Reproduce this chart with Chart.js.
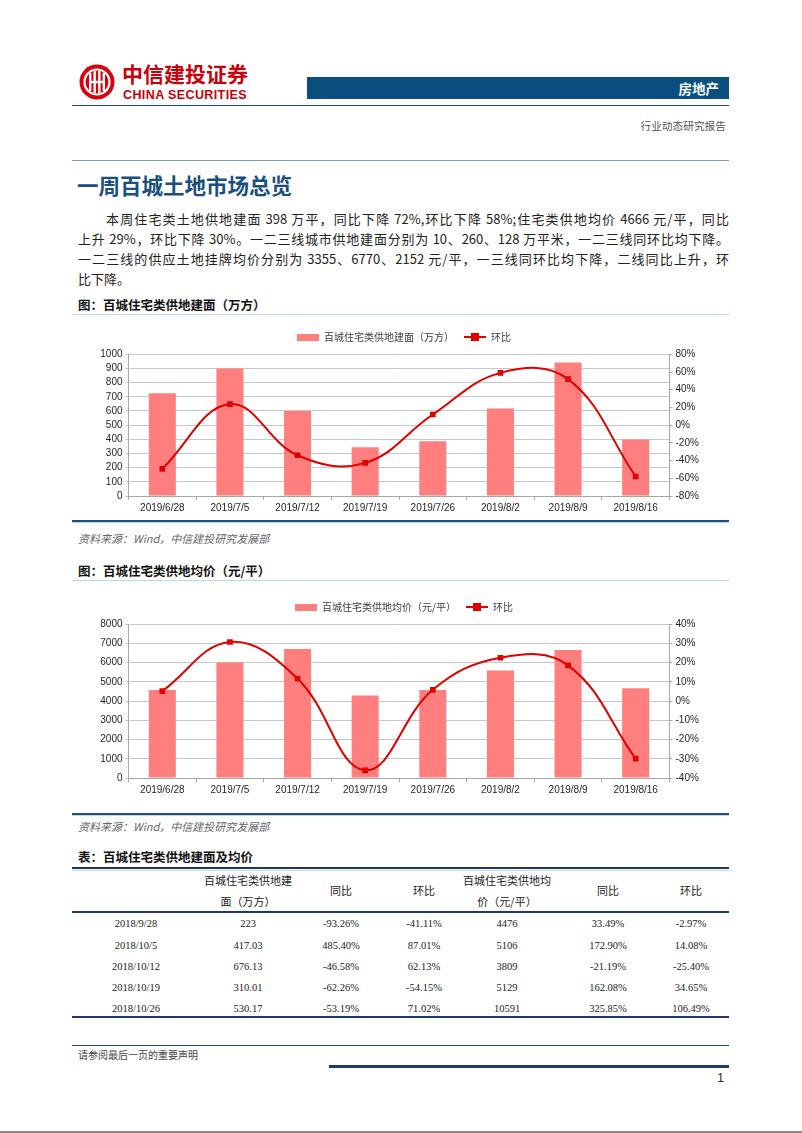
<!DOCTYPE html>
<html>
<head>
<meta charset="utf-8">
<script src="https://cdn.jsdelivr.net/npm/chart.js@4.4.1/dist/chart.umd.min.js"></script>
<style>
  html, body { margin: 0; padding: 0; background: #fff; }
  body { width: 802px; height: 1133px; position: relative; overflow: hidden;
         font-family: "Noto Sans CJK SC", "Liberation Sans", sans-serif; color: #222; }
  .abs { position: absolute; }
  .hline { position: absolute; height: 0; }
  .para { position: absolute; left: 78px; width: 651px; font-size: 13px; line-height: 20px;
          text-align: justify; text-align-last: justify; color: #222; }
  .ctitle { position: absolute; left: 78px; font-size: 12.5px; font-weight: bold; color: #111; line-height: 16px; }
  .src { position: absolute; left: 78px; font-size: 11px; font-style: italic; color: #666; line-height: 14px; }
  .box { position: absolute; }
  .cell { position: absolute; transform: translate(-50%, -50%); white-space: nowrap; }
  .num { font-family: "Liberation Serif", serif; font-size: 10.5px; color: #222; }
  .hd { font-size: 11px; color: #222; }
</style>
</head>
<body>

<!-- header -->
<svg class="abs" style="left:78px;top:63px" width="38" height="38" viewBox="0 0 38 38">
  <circle cx="19" cy="19" r="17.5" fill="#d7000f"/>
  <circle cx="19" cy="19" r="12.5" fill="none" stroke="#fff" stroke-width="2.2"/>
  <rect x="11" y="10" width="2.4" height="18" fill="#fff"/>
  <rect x="24.6" y="10" width="2.4" height="18" fill="#fff"/>
  <rect x="15.5" y="8" width="2.4" height="22" fill="#fff"/>
  <rect x="20.1" y="8" width="2.4" height="22" fill="#fff"/>
  <rect x="11" y="17.8" width="16" height="2.4" fill="#fff"/>
</svg>
<div class="abs" style="left:122px;top:60px;font-size:21px;font-weight:bold;color:#c8000b;line-height:26px">中信建投证券</div>
<div class="abs" style="left:123px;top:88px;font-family:'Liberation Sans';font-size:12.5px;font-weight:bold;color:#c8000b;line-height:14px;letter-spacing:0.4px">CHINA SECURITIES</div>
<div class="abs" style="left:307px;top:77px;width:422px;height:22px;background:#0b4f80"></div>
<div class="abs" style="left:600px;top:77px;width:119px;height:22px;line-height:22px;text-align:right;font-size:13.5px;font-weight:bold;color:#fff">房地产</div>
<div class="hline" style="left:72px;top:105px;width:657px;border-top:1.5px solid #1f4e79"></div>
<div class="abs" style="left:600px;top:119px;width:126px;text-align:right;font-size:10.7px;color:#555;line-height:14px">行业动态研究报告</div>
<div class="hline" style="left:72px;top:160px;width:657px;border-top:1px solid #7d9bbb"></div>

<!-- section title and text -->
<div class="abs" style="left:77px;top:171px;font-size:21.5px;font-weight:bold;color:#1a4f80;line-height:28px">一周百城土地市场总览</div>
<div class="para" style="left:106px;width:623px;top:209px">本周住宅类土地供地建面 398 万平，同比下降 72%,环比下降 58%;住宅类供地均价 4666 元/平，同比</div>
<div class="para" style="top:229px">上升 29%，环比下降 30%。一二三线城市供地建面分别为 10、260、128 万平米，一二三线同环比均下降。</div>
<div class="para" style="top:249px">一二三线的供应土地挂牌均价分别为 3355、6770、2152 元/平，一三线同环比均下降，二线同比上升，环</div>
<div class="para" style="top:269px;text-align-last:left">比下降。</div>

<!-- chart 1 -->
<div class="ctitle" style="top:297px">图：百城住宅类供地建面（万方）</div>
<div class="hline" style="left:72px;top:314px;width:657px;border-top:1px solid #bdd7ee"></div>
<div class="box" style="left:80px;top:322px;width:648px;height:196px"><canvas id="areaChart"></canvas></div>
<div class="hline" style="left:72px;top:520px;width:657px;border-top:2px solid #1f4e79"></div>
<div class="hline" style="left:72px;top:522px;width:657px;border-top:1px solid #bdd7ee"></div>
<div class="src" style="top:531px">资料来源：Wind，中信建投研究发展部</div>

<!-- chart 2 -->
<div class="ctitle" style="top:563px">图：百城住宅类供地均价（元/平）</div>
<div class="hline" style="left:72px;top:580px;width:657px;border-top:1px solid #bdd7ee"></div>
<div class="box" style="left:80px;top:592px;width:648px;height:208px"><canvas id="priceChart"></canvas></div>
<div class="hline" style="left:72px;top:813px;width:657px;border-top:2px solid #1f4e79"></div>
<div class="hline" style="left:72px;top:815px;width:657px;border-top:1px solid #bdd7ee"></div>
<div class="src" style="top:819px">资料来源：Wind，中信建投研究发展部</div>

<!-- table -->
<div class="ctitle" style="top:849px">表：百城住宅类供地建面及均价</div>
<div class="hline" style="left:72px;top:867px;width:657px;border-top:2.5px solid #1f3864"></div>
<div class="hline" style="left:72px;top:870px;width:657px;border-top:1px solid #bdd7ee"></div>
<div id="table"></div>
<div class="hline" style="left:72px;top:911px;width:657px;border-top:2.5px solid #1f3864"></div>
<div class="hline" style="left:72px;top:1016px;width:657px;border-top:2.5px solid #1f3864"></div>

<!-- footer -->
<div class="hline" style="left:72px;top:1045px;width:657px;border-top:1px solid #1f4e79"></div>
<div class="abs" style="left:78px;top:1048px;font-size:10px;color:#444;line-height:14px">请参阅最后一页的重要声明</div>
<div class="hline" style="left:329px;top:1065px;width:400px;border-top:3px solid #1f3864"></div>
<div class="abs" style="left:700px;top:1071px;width:24px;text-align:right;font-family:'Liberation Sans';font-size:12px;color:#222;line-height:15px">1</div>
<div class="hline" style="left:0px;top:1131px;width:802px;border-top:2px solid #888"></div>

<script>
// chart data
const dates = ['2019/6/28', '2019/7/5', '2019/7/12', '2019/7/19', '2019/7/26', '2019/8/2', '2019/8/9', '2019/8/16'];
const areaValues = [726, 899, 599, 344, 387, 618, 943, 398];
const areaMoM = [-49.4, 23.8, -34, -42.6, 12, 59, 52, -58];
const priceValues = [4574, 6017, 6713, 4296, 4574, 5600, 6661, 4666];
const priceMoM = [5.2, 30.8, 11.7, -36, 5.9, 22.6, 18.6, -30];

// table data
const tableDates = ['2018/9/28', '2018/10/5', '2018/10/12', '2018/10/19', '2018/10/26'];
const tableArea = ['223', '417.03', '676.13', '310.01', '530.17'];
const tableAreaYoY = ['-93.26%', '485.40%', '-46.58%', '-62.26%', '-53.19%'];
const tableAreaMoM = ['-41.11%', '87.01%', '62.13%', '-54.15%', '71.02%'];
const tablePrice = ['4476', '5106', '3809', '5129', '10591'];
const tablePriceYoY = ['33.49%', '172.90%', '-21.19%', '162.08%', '325.85%'];
const tablePriceMoM = ['-2.97%', '14.08%', '-25.40%', '34.65%', '106.49%'];

const BAR_COLOR = '#ff7f7f';
const LINE_COLOR = '#e00000';
const tickFont = { family: 'Liberation Sans', size: 10 };

// legend swatches
function barSwatch() {
    const c = document.createElement('canvas');
    c.width = 22; c.height = 7;
    const g = c.getContext('2d');
    g.fillStyle = BAR_COLOR;
    g.fillRect(0, 0, 22, 7);
    return c;
}
function lineSwatch() {
    const c = document.createElement('canvas');
    c.width = 22; c.height = 8;
    const g = c.getContext('2d');
    g.fillStyle = LINE_COLOR;
    g.fillRect(0, 3, 22, 2);
    g.fillRect(7, 0, 8, 8);
    return c;
}

function makeChart(id, barLabel, bars, line, leftMax, leftStep, rightMin, rightMax, rightStep) {
    const legendItems = [
        { text: barLabel, pointStyle: barSwatch(), datasetIndex: 0, lineWidth: 0, fontColor: '#404040', hidden: false },
        { text: '环比', pointStyle: lineSwatch(), datasetIndex: 1, lineWidth: 0, fontColor: '#404040', hidden: false }
    ];

    return new Chart(document.getElementById(id), {
        type: 'bar',
        data: {
            labels: dates,
            datasets: [{
                type: 'bar',
                label: barLabel,
                data: bars,
                backgroundColor: BAR_COLOR,
                barPercentage: 0.4,
                categoryPercentage: 1.0,
                yAxisID: 'y',
                order: 1
            }, {
                type: 'line',
                label: '环比',
                data: line,
                borderColor: LINE_COLOR,
                backgroundColor: LINE_COLOR,
                borderWidth: 2,
                pointStyle: 'rect',
                pointRadius: 4,
                pointBackgroundColor: LINE_COLOR,
                pointBorderWidth: 0,
                tension: 0.4,
                yAxisID: 'y1',
                order: 0
            }]
        },
        options: {
            responsive: true,
            maintainAspectRatio: false,
            animation: false,
            layout: { padding: { top: 0, left: 0, right: 0, bottom: 0 } },
            plugins: {
                tooltip: { enabled: false },
                legend: {
                    position: 'top',
                    labels: {
                        usePointStyle: true,
                        pointStyleWidth: 22,
                        padding: 10,
                        font: { family: 'Noto Sans CJK SC', size: 10 },
                        color: '#404040',
                        generateLabels: () => legendItems
                    }
                }
            },
            scales: {
                x: {
                    offset: true,
                    grid: { display: true, drawOnChartArea: false, offset: true, tickLength: 4, color: '#a6a6a6' },
                    border: { color: '#a6a6a6' },
                    ticks: { font: tickFont, color: '#262626', maxRotation: 0, autoSkip: false, padding: 2 },
                    afterFit: s => { s.height = 22; }
                },
                y: {
                    position: 'left',
                    min: 0, max: leftMax,
                    ticks: { stepSize: leftStep, autoSkip: false, font: tickFont, color: '#262626', padding: 3,
                             callback: v => String(v) },
                    grid: { color: '#c8c8c8', tickLength: 3 },
                    border: { color: '#a6a6a6' },
                    afterFit: s => { s.width = 48.5; }
                },
                y1: {
                    position: 'right',
                    min: rightMin, max: rightMax,
                    ticks: { stepSize: rightStep, autoSkip: false, font: tickFont, color: '#262626', padding: 3,
                             callback: v => v + '%' },
                    grid: { drawOnChartArea: false, color: '#a6a6a6', tickLength: 3 },
                    border: { color: '#a6a6a6' },
                    afterFit: s => { s.width = 58.5; }
                }
            }
        },
        plugins: [{
            id: 'legendHeight',
            beforeInit(chart) {
                const fit = chart.legend.fit;
                chart.legend.fit = function () {
                    fit.bind(chart.legend)();
                    this.height = 32.3;
                };
            }
        }]
    });
}

makeChart('areaChart', '百城住宅类供地建面（万方）', areaValues, areaMoM, 1000, 100, -80, 80, 20);
makeChart('priceChart', '百城住宅类供地均价（元/平）', priceValues, priceMoM, 8000, 1000, -40, 40, 10);

// table
const colX = [136, 248, 341, 424, 507, 608, 691];
const rowY = [923, 945, 966, 987, 1008];
const tbl = document.getElementById('table');
function cell(x, y, text, cls) {
    const d = document.createElement('div');
    d.className = 'cell ' + cls;
    d.style.left = x + 'px';
    d.style.top = y + 'px';
    d.textContent = text;
    tbl.appendChild(d);
}
cell(colX[1], 880, '百城住宅类供地建', 'hd');
cell(colX[1], 901, '面（万方）', 'hd');
cell(colX[2], 890, '同比', 'hd');
cell(colX[3], 890, '环比', 'hd');
cell(colX[4], 880, '百城住宅类供地均', 'hd');
cell(colX[4], 901, '价（元/平）', 'hd');
cell(colX[5], 890, '同比', 'hd');
cell(colX[6], 890, '环比', 'hd');
const cols = [tableDates, tableArea, tableAreaYoY, tableAreaMoM, tablePrice, tablePriceYoY, tablePriceMoM];
rowY.forEach((y, r) => {
    cols.forEach((col, c) => cell(colX[c], y, col[r], 'num'));
});
</script>
</body>
</html>
